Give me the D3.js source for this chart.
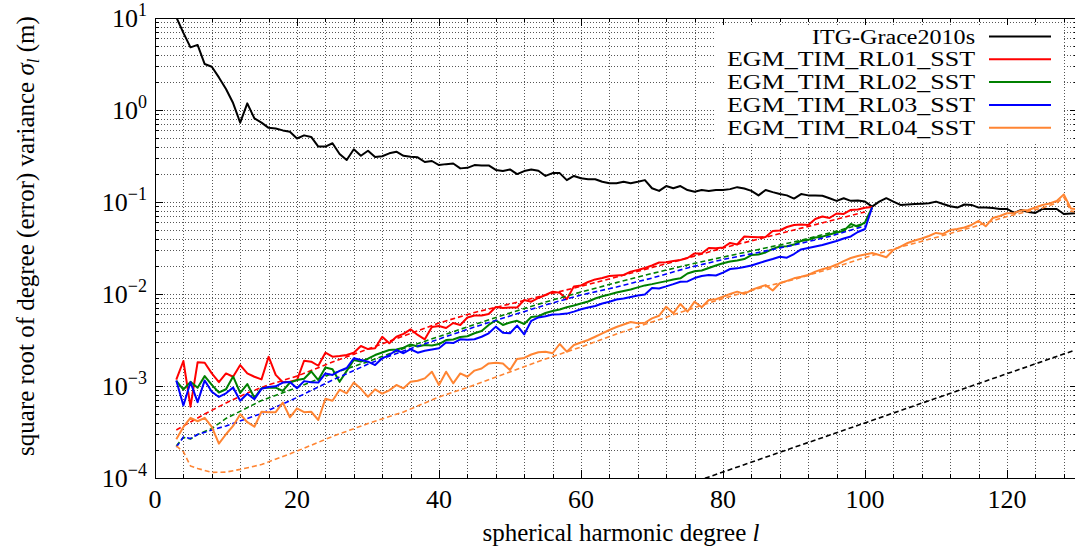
<!DOCTYPE html>
<html>
<head>
<meta charset="utf-8">
<script src="https://cdn.jsdelivr.net/npm/d3@7"></script>
<style>
  body { margin: 0; background: #fff; }
  text { font-family: "Liberation Serif", "DejaVu Serif", serif; fill: #000; }
</style>
</head>
<body>
<svg id="chart" width="1075" height="550"></svg>
<script>
// degree-variance curves, values (m)
const itgStart = 2;
const itgGrace2010s = [30, 10.2, 6.9, 4.8, 5.1, 3.16, 2.95, 2.26, 1.69, 1.19,
  0.73, 1.18, 0.81, 0.73, 0.64, 0.63, 0.60, 0.58, 0.49, 0.53,
  0.51, 0.40, 0.40, 0.435, 0.333, 0.286, 0.374, 0.318, 0.361, 0.308,
  0.314, 0.338, 0.352, 0.318, 0.31, 0.306, 0.272, 0.279, 0.252,
  0.258, 0.262, 0.232, 0.235, 0.252, 0.25, 0.25, 0.223, 0.217, 0.226,
  0.201, 0.217, 0.225, 0.219, 0.192, 0.206, 0.206, 0.173, 0.192, 0.181,
  0.177, 0.177, 0.166, 0.160, 0.160, 0.166, 0.160, 0.166, 0.173, 0.141,
  0.132, 0.149, 0.141, 0.149, 0.135, 0.129, 0.135, 0.132, 0.135, 0.135,
  0.138, 0.145, 0.140, 0.132, 0.118, 0.135, 0.128, 0.122, 0.118, 0.109,
  0.122, 0.118, 0.118, 0.117, 0.110, 0.103, 0.110, 0.103, 0.104, 0.101,
  0.089, 0.101, 0.110, 0.101, 0.093, 0.094, 0.095, 0.096, 0.097, 0.101,
  0.095, 0.090, 0.087, 0.094, 0.093, 0.087, 0.087, 0.086, 0.084, 0.084,
  0.076, 0.082, 0.078, 0.076, 0.084, 0.084, 0.084, 0.074, 0.075, 0.076];

const timStart = 3;
const rl01 = [1.17e-3, 1.87e-3, 5.96e-4, 1.81e-3, 1.79e-3, 1.37e-3, 1.10e-3, 1.37e-3, 1.26e-3, 1.69e-3,
  1.37e-3, 1.26e-3, 1.18e-3, 2.08e-3, 1.32e-3, 1.10e-3, 1.11e-3, 1.16e-3, 1.88e-3, 1.84e-3,
  1.66e-3, 2.30e-3, 2.08e-3, 2.12e-3, 2.17e-3, 2.30e-3, 2.72e-3, 2.52e-3, 2.57e-3, 3.43e-3,
  2.91e-3, 3.43e-3, 3.68e-3, 4.13e-3, 3.59e-3, 3.22e-3, 4.38e-3, 4.49e-3, 4.27e-3, 4.84e-3,
  4.61e-3, 5.56e-3, 5.84e-3, 5.84e-3, 6.07e-3, 7.23e-3, 7.05e-3, 7.14e-3, 7.14e-3, 8.61e-3,
  8.25e-3, 9.05e-3, 9.76e-3, 1.06e-2, 1.03e-2, 8.78e-3, 1.21e-2, 1.24e-2, 1.35e-2, 1.44e-2,
  1.49e-2, 1.57e-2, 1.59e-2, 1.61e-2, 1.75e-2, 1.82e-2, 1.92e-2, 2.04e-2, 2.20e-2, 2.22e-2,
  2.28e-2, 2.34e-2, 2.46e-2, 2.76e-2, 2.76e-2, 3.16e-2, 3.14e-2, 3.20e-2, 3.59e-2, 3.45e-2,
  4.22e-2, 4.17e-2, 4.13e-2, 4.17e-2, 4.84e-2, 4.90e-2, 5.35e-2, 5.63e-2, 5.70e-2, 5.63e-2,
  6.54e-2, 6.96e-2, 6.70e-2, 7.50e-2, 7.41e-2, 8.19e-2, 8.29e-2, 8.67e-2, 8.83e-2];
const rl02 = [1.14e-3, 9.16e-4, 1.11e-3, 9.56e-4, 1.28e-3, 1.03e-3, 8.50e-4, 9.22e-4, 1.27e-3, 8.40e-4,
  1.05e-3, 7.45e-4, 9.44e-4, 9.63e-4, 9.58e-4, 8.83e-4, 1.09e-3, 1.16e-3, 1.20e-3, 1.44e-3,
  1.16e-3, 1.59e-3, 1.52e-3, 1.11e-3, 1.46e-3, 1.92e-3, 1.84e-3, 1.98e-3, 2.17e-3, 2.31e-3,
  2.46e-3, 2.49e-3, 2.61e-3, 2.83e-3, 2.69e-3, 2.79e-3, 2.76e-3, 2.86e-3, 3.16e-3, 3.20e-3,
  3.41e-3, 3.47e-3, 3.74e-3, 3.96e-3, 4.61e-3, 5.18e-3, 4.61e-3, 4.90e-3, 5.11e-3, 4.72e-3,
  5.63e-3, 5.73e-3, 6.22e-3, 6.54e-3, 6.79e-3, 7.19e-3, 7.50e-3, 7.88e-3, 8.29e-3, 8.93e-3,
  9.47e-3, 9.88e-3, 1.04e-2, 1.08e-2, 1.12e-2, 1.18e-2, 1.24e-2, 1.28e-2, 1.33e-2, 1.38e-2,
  1.44e-2, 1.48e-2, 1.67e-2, 1.77e-2, 1.80e-2, 1.92e-2, 2.04e-2, 2.16e-2, 2.25e-2, 2.31e-2,
  2.40e-2, 2.65e-2, 2.69e-2, 2.83e-2, 3.09e-2, 3.28e-2, 3.30e-2, 3.45e-2, 3.77e-2, 3.88e-2,
  4.11e-2, 4.20e-2, 4.43e-2, 4.66e-2, 4.84e-2, 5.77e-2, 5.39e-2, 5.99e-2, 8.72e-2];
const rl03 = [1.15e-3, 6.14e-4, 1.10e-3, 6.67e-4, 1.15e-3, 8.65e-4, 7.60e-4, 8.33e-4, 9.63e-4, 6.92e-4,
  8.25e-4, 7.19e-4, 9.32e-4, 9.75e-4, 9.92e-4, 1.09e-3, 1.105e-3, 9.44e-4, 1.13e-3, 1.10e-3,
  1.09e-3, 1.37e-3, 1.32e-3, 1.46e-3, 1.57e-3, 2.00e-3, 1.92e-3, 1.84e-3, 1.69e-3, 2.00e-3,
  2.17e-3, 2.46e-3, 2.27e-3, 2.51e-3, 2.30e-3, 2.42e-3, 2.49e-3, 2.57e-3, 2.97e-3, 2.93e-3,
  3.22e-3, 3.19e-3, 3.22e-3, 3.43e-3, 3.74e-3, 4.42e-3, 3.80e-3, 3.74e-3, 4.54e-3, 3.63e-3,
  5.11e-3, 5.56e-3, 5.74e-3, 5.99e-3, 6.04e-3, 6.12e-3, 6.43e-3, 6.83e-3, 7.14e-3, 7.41e-3,
  7.88e-3, 8.25e-3, 8.72e-3, 8.93e-3, 9.28e-3, 9.63e-3, 9.88e-3, 1.16e-2, 1.15e-2, 1.21e-2,
  1.28e-2, 1.36e-2, 1.37e-2, 1.49e-2, 1.57e-2, 1.61e-2, 1.59e-2, 1.71e-2, 1.87e-2, 1.90e-2,
  1.97e-2, 2.04e-2, 2.16e-2, 2.28e-2, 2.40e-2, 2.54e-2, 2.48e-2, 2.72e-2, 3.05e-2, 3.16e-2,
  3.28e-2, 3.41e-2, 3.59e-2, 3.77e-2, 4.01e-2, 4.22e-2, 4.72e-2, 5.09e-2, 8.72e-2];
const rl04 = [2.63e-4, 3.59e-4, 4.51e-4, 4.14e-4, 4.51e-4, 3.59e-4, 2.36e-4, 2.99e-4, 3.68e-4, 4.94e-4,
  4.04e-4, 3.61e-4, 5.25e-4, 5.19e-4, 5.19e-4, 6.59e-4, 4.57e-4, 5.72e-4, 5.19e-4, 5.25e-4,
  4.27e-4, 7.26e-4, 6.92e-4, 9.11e-4, 8.33e-4, 1.09e-3, 9.32e-4, 7.63e-4, 9.20e-4, 8.25e-4,
  8.97e-4, 1.025e-3, 9.44e-4, 1.11e-3, 1.14e-3, 1.21e-3, 1.43e-3, 1.025e-3, 1.43e-3, 1.07e-3,
  1.37e-3, 1.26e-3, 1.47e-3, 1.55e-3, 1.76e-3, 1.79e-3, 1.76e-3, 1.49e-3, 1.97e-3, 2.02e-3,
  2.20e-3, 2.33e-3, 2.36e-3, 2.27e-3, 2.86e-3, 2.36e-3, 2.79e-3, 2.97e-3, 3.16e-3, 3.43e-3,
  3.74e-3, 4.06e-3, 4.38e-3, 4.66e-3, 4.96e-3, 4.80e-3, 4.87e-3, 5.44e-3, 5.81e-3, 7.28e-3,
  6.17e-3, 7.79e-3, 6.43e-3, 8.25e-3, 7.17e-3, 8.61e-3, 8.76e-3, 9.35e-3, 1.00e-2, 1.06e-2,
  1.00e-2, 1.105e-2, 1.18e-2, 1.25e-2, 1.09e-2, 1.31e-2, 1.39e-2, 1.48e-2, 1.54e-2, 1.61e-2,
  1.75e-2, 1.86e-2, 1.95e-2, 2.09e-2, 2.28e-2, 2.46e-2, 2.59e-2, 2.69e-2, 2.79e-2, 2.65e-2,
  2.51e-2, 3.01e-2, 3.28e-2, 3.59e-2, 3.82e-2, 4.01e-2, 4.27e-2, 4.61e-2, 4.49e-2, 4.96e-2,
  5.09e-2, 5.29e-2, 5.63e-2, 6.22e-2, 5.44e-2, 6.70e-2, 7.05e-2, 7.54e-2, 7.60e-2, 8.09e-2,
  8.19e-2, 8.72e-2, 9.28e-2, 9.63e-2, 1.025e-1, 1.21e-1, 8.50e-2, 8.29e-2];

// smooth (dashed) curves, sampled at the degrees listed
const rl01FitDeg = [3, 5, 7, 10, 13, 16, 20, 25, 30, 35, 40, 45, 50, 55, 60, 65, 70, 75, 80, 85, 90, 95, 100];
const rl01Fit = [3.33e-4, 4.06e-4, 4.96e-4, 6.54e-4, 8.40e-4, 1.03e-3, 1.28e-3, 1.82e-3, 2.52e-3, 3.50e-3,
  4.84e-3, 6.30e-3, 7.79e-3, 9.75e-3, 1.21e-2, 1.53e-2, 1.94e-2, 2.46e-2, 3.16e-2, 3.96e-2,
  4.96e-2, 6.22e-2, 7.79e-2];
const rl0203FitDeg = [3, 4, 5, 6, 8, 10, 15, 20, 25, 30, 35, 40, 45, 50, 55, 60, 65, 70, 75, 80, 85, 90, 95, 100];
const rl02Fit = [2.23e-4, 2.76e-4, 2.65e-4, 2.97e-4, 3.45e-4, 4.44e-4, 6.96e-4, 9.63e-4, 1.37e-3, 1.84e-3,
  2.56e-3, 3.45e-3, 4.66e-3, 6.22e-3, 8.19e-3, 1.05e-2, 1.33e-2, 1.67e-2, 2.07e-2, 2.52e-2,
  3.05e-2, 3.68e-2, 4.61e-2, 5.87e-2];
const rl03Fit = [2.17e-4, 2.79e-4, 2.69e-4, 2.97e-4, 3.33e-4, 3.68e-4, 5.02e-4, 7.50e-4, 1.16e-3, 1.73e-3,
  2.40e-3, 3.24e-3, 4.38e-3, 5.77e-3, 7.60e-3, 9.75e-3, 1.19e-2, 1.49e-2, 1.92e-2, 2.37e-2,
  2.83e-2, 3.41e-2, 4.22e-2, 5.49e-2];
const rl04FitDeg = [3, 4, 5, 6, 8, 10, 12, 15, 20, 25, 30, 35, 40, 45, 50, 55, 60, 65, 70, 75, 80,
  85, 90, 95, 100, 105, 110, 115, 120, 125, 127, 128, 129, 130];
const rl04Fit = [2.23e-4, 1.93e-4, 1.35e-4, 1.27e-4, 1.15e-4, 1.16e-4, 1.24e-4, 1.40e-4, 1.96e-4, 2.83e-4,
  3.91e-4, 5.22e-4, 7.60e-4, 1.025e-3, 1.42e-3, 1.97e-3, 2.65e-3, 3.68e-3, 4.96e-3, 6.70e-3,
  8.94e-3, 1.15e-2, 1.44e-2, 1.87e-2, 2.49e-2, 3.24e-2, 4.12e-2, 5.29e-2, 6.96e-2, 8.61e-2,
  9.75e-2, 1.13e-1, 7.95e-2, 7.79e-2];
const refDeg = [70, 80, 90, 100, 110, 120, 130];
const refCurve = [6.26e-5, 1.16e-4, 2.15e-4, 3.97e-4, 7.36e-4, 1.36e-3, 2.52e-3];

const legendNames = ["ITG-Grace2010s", "EGM_TIM_RL01_SST", "EGM_TIM_RL02_SST", "EGM_TIM_RL03_SST", "EGM_TIM_RL04_SST"];
const colors = ["#000000", "#ff0000", "#008000", "#0000ff", "#ff8533"];
const xTicks = [0, 20, 40, 60, 80, 100, 120];
const yExponents = [-4, -3, -2, -1, 0, 1];

const svg = d3.select("#chart");
const pL = 155, pT = 18, pB = 478, pR = 1078;

const x = d3.scaleLinear().domain([0, 130]).range([pL, pR]);
const y = d3.scaleLog().domain([1e-4, 10]).range([pB, pT]);

const withDeg = (start, vals) => vals.map((v, i) => [start + i, v]);
const zipped = (degs, vals) => vals.map((v, i) => [degs[i], v]);

svg.append("defs").append("clipPath").attr("id", "plotClip")
  .append("rect").attr("x", pL).attr("y", pT)
  .attr("width", pR - pL).attr("height", pB - pT);

// grid
const yGridVals = [];
yExponents.slice(0, -1).forEach(e => {
  for (let k = 1; k <= 9; k++) yGridVals.push(k * Math.pow(10, e));
});
const xGridVals = d3.range(4, 130, 4);

const grid = svg.append("g").attr("stroke", "#555").attr("stroke-width", 1)
  .attr("stroke-dasharray", "1,2");
grid.selectAll(".hg").data(yGridVals.filter(v => v > 1e-4))
  .join("line").attr("class", "hg")
  .attr("x1", pL).attr("x2", pR)
  .attr("y1", d => Math.round(y(d)) + 0.5).attr("y2", d => Math.round(y(d)) + 0.5);
grid.selectAll(".vg").data(xGridVals)
  .join("line").attr("class", "vg")
  .attr("y1", pT).attr("y2", pB)
  .attr("x1", d => Math.round(x(d)) + 0.5).attr("x2", d => Math.round(x(d)) + 0.5);

// curves
const line = d3.line().x(d => x(d[0])).y(d => y(d[1]));
const plot = svg.append("g").attr("clip-path", "url(#plotClip)").attr("fill", "none")
  .attr("stroke-linejoin", "round");

const curves = [
  {pts: withDeg(itgStart, itgGrace2010s), color: colors[0], dash: null},
  {pts: withDeg(timStart, rl01), color: colors[1], dash: null},
  {pts: zipped(rl01FitDeg, rl01Fit), color: colors[1], dash: "5,3"},
  {pts: withDeg(timStart, rl02), color: colors[2], dash: null},
  {pts: zipped(rl0203FitDeg, rl02Fit), color: colors[2], dash: "5,3"},
  {pts: withDeg(timStart, rl03), color: colors[3], dash: null},
  {pts: zipped(rl0203FitDeg, rl03Fit), color: colors[3], dash: "5,3"},
  {pts: withDeg(timStart, rl04), color: colors[4], dash: null},
  {pts: zipped(rl04FitDeg, rl04Fit), color: colors[4], dash: "5,3"},
  {pts: zipped(refDeg, refCurve), color: colors[0], dash: "5,3"}
];
plot.selectAll("path").data(curves).join("path")
  .attr("d", d => line(d.pts))
  .attr("stroke", d => d.color)
  .attr("stroke-width", d => d.dash ? 1.6 : 2)
  .attr("stroke-dasharray", d => d.dash);

// frame and inward ticks
const ticks = svg.append("g").attr("stroke", "#000").attr("stroke-width", 1);
xGridVals.concat([0, 128]).forEach(v => {
  const major = v % 20 === 0, len = major ? 8 : 4, xx = Math.round(x(v)) + 0.5;
  ticks.append("line").attr("x1", xx).attr("x2", xx).attr("y1", pB).attr("y2", pB - len);
  ticks.append("line").attr("x1", xx).attr("x2", xx).attr("y1", pT).attr("y2", pT + len);
});
yGridVals.concat([10]).forEach(v => {
  const major = Math.abs(Math.log10(v) % 1) < 1e-9, len = major ? 8 : 4, yy = Math.round(y(v)) + 0.5;
  ticks.append("line").attr("x1", pL).attr("x2", pL + len).attr("y1", yy).attr("y2", yy);
  ticks.append("line").attr("x1", pR).attr("x2", pR - len).attr("y1", yy).attr("y2", yy);
});
svg.append("rect").attr("x", pL + 0.5).attr("y", pT + 0.5)
  .attr("width", pR - pL).attr("height", pB - pT)
  .attr("fill", "none").attr("stroke", "#000").attr("stroke-width", 1);

// tick labels
svg.selectAll(".xl").data(xTicks).join("text").attr("class", "xl")
  .attr("x", d => x(d)).attr("y", 508).attr("text-anchor", "middle")
  .attr("font-size", 26).text(d => d);

yExponents.forEach(e => {
  const t = svg.append("text").attr("x", 147).attr("y", y(Math.pow(10, e)) + 9)
    .attr("text-anchor", "end").attr("font-size", 26);
  t.append("tspan").text("10");
  t.append("tspan").attr("dy", -11).attr("font-size", 18).text(String(e).replace("-", "\u2212"));
});

// axis titles
const xt = svg.append("text").attr("x", 621).attr("y", 541).attr("text-anchor", "middle")
  .attr("font-size", 25);
xt.append("tspan").text("spherical harmonic degree ");
xt.append("tspan").attr("font-style", "italic").text("l");

const yt = svg.append("text").attr("transform", "translate(34,236) rotate(-90)")
  .attr("text-anchor", "middle").attr("font-size", 25);
yt.append("tspan").text("square root of degree (error) variance ");
yt.append("tspan").attr("font-style", "italic").text("\u03c3");
yt.append("tspan").attr("font-style", "italic").attr("font-size", 17).attr("dy", 5).text("l");
yt.append("tspan").attr("dy", -5).text(" (m)");

// legend
const legend = svg.append("g");
legend.append("rect").attr("x", 714).attr("y", 25).attr("width", 349).attr("height", 118)
  .attr("fill", "#fff");
const rowY = i => 36.5 + i * 22.8;
legend.selectAll("text").data(legendNames).join("text")
  .attr("x", 975).attr("y", (d, i) => rowY(i) + 7).attr("text-anchor", "end")
  .attr("font-size", 20)
  .attr("textLength", (d, i) => i === 0 ? 163 : 248)
  .attr("lengthAdjust", "spacingAndGlyphs")
  .text(d => d);
legend.selectAll("line").data(colors).join("line")
  .attr("x1", 989).attr("x2", 1051)
  .attr("y1", (d, i) => rowY(i)).attr("y2", (d, i) => rowY(i))
  .attr("stroke", d => d).attr("stroke-width", 2);
</script>
</body>
</html>
